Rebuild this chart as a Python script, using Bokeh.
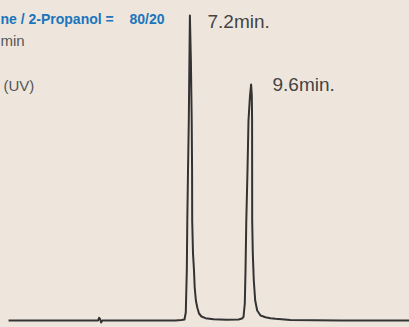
from bokeh.plotting import figure
from bokeh.models import Label, ColumnDataSource, Range1d
from bokeh.embed import file_html
from bokeh.resources import INLINE

# Chromatogram trace: retention time (min) and detector signal (arb. units)
time_min = [0.08, 3.59, 3.63, 3.67, 3.71, 3.76, 6.63, 6.86, 6.98, 7.031, 7.071, 7.090, 7.118,
            7.149, 7.173, 7.192, 7.231, 7.263, 7.278, 7.282, 7.314, 7.353, 7.380, 7.427, 7.482,
            7.549, 7.647, 7.804, 8.118, 8.627, 9.098, 9.235, 9.294, 9.345, 9.373, 9.404, 9.451,
            9.490, 9.549, 9.592, 9.620, 9.631, 9.633, 9.635, 9.659, 9.698, 9.753, 9.831, 9.961,
            10.157, 10.353, 10.549, 11.137, 13.098, 15.80]
signal = [0, 0, 2.7, 1.5, -2, 0, 0, 0.5, 1, 8, 50, 100, 150,
          200, 260, 305, 260, 200, 150, 100, 67, 50, 33, 20, 13,
          7, 4, 2.3, 1.2, 0.7, 1, 2, 3.5, 17, 50, 100, 150,
          200, 225, 236, 225, 200, 150, 100, 67, 40, 20, 10, 5,
          3.3, 2.3, 1.7, 0.5, 0, 0]

peak_labels = ["7.2min.", "9.6min."]
condition_texts = ["ne / 2-Propanol =", "80/20", "min", "(UV)"]

BG = "#EEE6DD"
W, H = 409, 327

p = figure(width=W, height=H, output_backend="svg", toolbar_location=None,
           x_axis_location=None, y_axis_location=None,
           x_range=Range1d(-6 / 25.5, 403 / 25.5), y_range=Range1d(-7, 320),
           min_border=0, outline_line_color=None)
p.background_fill_color = BG
p.border_fill_color = BG
p.grid.visible = False

src = ColumnDataSource(dict(t=time_min, s=signal))
p.line("t", "s", source=src, line_color="#333333", line_width=2, line_join="round")

blue = "#1B75BB"

def lab(text, x, y_top_px, size, color, font, style="normal"):
    p.add_layout(Label(x=x, y=H - y_top_px, x_units="screen", y_units="screen",
                       text=text, text_font=font, text_font_size=size,
                       text_color=color, text_font_style=style,
                       text_baseline="alphabetic", text_align="left"))

lab(condition_texts[0], 0, 18.3, "14px", blue, "Liberation Sans", "bold")
lab(condition_texts[1], 129, 18.8, "14px", blue, "Liberation Sans", "bold")
lab(condition_texts[2], 0, 39.5, "15px", "#555555", "Liberation Sans")
lab(condition_texts[3], 3, 85, "15px", "#555555", "Liberation Sans")
lab(peak_labels[0], 207, 20.5, "19px", "#444444", "Liberation Sans")
lab(peak_labels[1], 272, 84, "19px", "#444444", "Liberation Sans")

html = file_html(p, INLINE)
html = html.replace("</head>", "<style>html,body{margin:0;padding:0;background:%s;}</style></head>" % BG, 1)
open("out.html", "w").write(html)
